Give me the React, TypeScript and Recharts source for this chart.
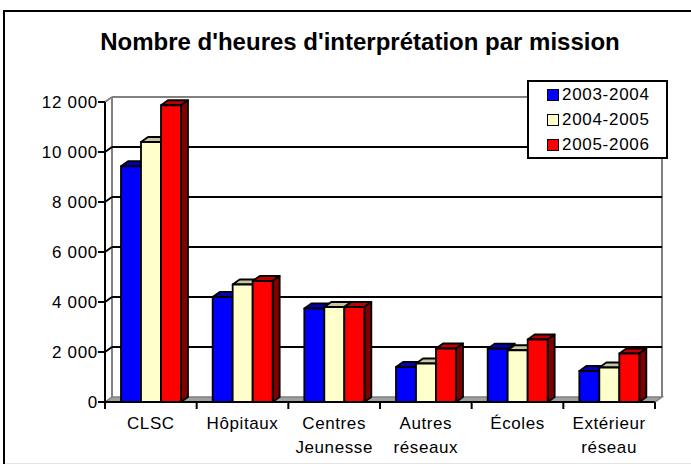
import { Bar, BarChart, CartesianGrid, Legend, XAxis, YAxis } from "recharts";

const categories = ["CLSC", "Hôpitaux", "Centres Jeunesse", "Autres réseaux", "Écoles", "Extérieur réseau"];
const hours2003 = [9430, 4200, 3740, 1400, 2130, 1240];
const hours2004 = [10400, 4700, 3800, 1540, 2070, 1380];
const hours2005 = [11870, 4840, 3800, 2140, 2500, 1940];
const seriesNames = ["2003-2004", "2004-2005", "2005-2006"];
const yTicks = [0, 2000, 4000, 6000, 8000, 10000, 12000];

const data = categories.map((name, i) => ({
  name,
  s2003: hours2003[i],
  s2004: hours2004[i],
  s2005: hours2005[i]
}));

// depth of the fake 3d look
const DX = 7;
const DY = -5;
const FONT = "'Liberation Sans', Arial, sans-serif";

function formatThousands(v: number): string {
  return String(v).replace(/\B(?=(\d{3})+(?!\d))/g, " ");
}

function make3DBar(front: string, top: string, side: string) {
  return (props: any) => {
    const { x, y, width, height } = props;
    if (width == null || height == null) return null;
    const r = x + width;
    const b = y + height;
    return (
      <g stroke="#000" strokeWidth={1.8} strokeLinejoin="round">
        <polygon points={`${x},${y} ${x + DX},${y + DY} ${r + DX},${y + DY} ${r},${y}`} fill={top} />
        <polygon points={`${r},${y} ${r + DX},${y + DY} ${r + DX},${b + DY} ${r},${b}`} fill={side} />
        <rect x={x} y={y} width={width} height={height} fill={front} />
      </g>
    );
  };
}

// back wall gridline + side wall diagonal; the bottom one also draws floor and wall edges
function WallLine(props: any) {
  const { x1, y1, x2, x, y, width, height } = props;
  const bottom = y + height;
  const isBottom = Math.abs(y1 - bottom) < 0.5;
  const isTop = Math.abs(y1 - y) < 0.5;
  if (isBottom) {
    return (
      <g>
        <polygon
          points={`${x},${bottom} ${x + DX},${bottom + DY} ${x + width + DX},${bottom + DY} ${x + width},${bottom}`}
          fill="#a0a0a0"
          stroke="#808080"
          strokeWidth={1.5}
        />
        <line x1={x + DX} y1={y + DY} x2={x + DX} y2={bottom + DY} stroke="#808080" strokeWidth={2} />
        <line x1={x + width + DX} y1={y + DY} x2={x + width + DX} y2={bottom + DY} stroke="#808080" strokeWidth={2} />
      </g>
    );
  }
  const color = isTop ? "#808080" : "#000";
  return (
    <g stroke={color} strokeWidth={2}>
      <line x1={x1} y1={y1} x2={x1 + DX} y2={y1 + DY} />
      <line x1={x1 + DX} y1={y1 + DY} x2={x2 + DX} y2={y1 + DY} />
    </g>
  );
}

function CategoryTick(props: any) {
  const { x, y, payload, index, visibleTicksCount } = props;
  const half = payload.offset ?? 0;
  const lines = String(payload.value).split(" ");
  return (
    <g>
      <line x1={x - half} y1={y} x2={x - half} y2={y + 7} stroke="#000" strokeWidth={2} />
      {index === visibleTicksCount - 1 ? (
        <line x1={x + half} y1={y} x2={x + half} y2={y + 7} stroke="#000" strokeWidth={2} />
      ) : null}
      <text
        x={x}
        y={y + 27}
        textAnchor="middle"
        fontSize={17}
        letterSpacing={0.6}
        fontFamily={FONT}
        fill="#000"
      >
        {lines.map((l, i) => (
          <tspan key={i} x={x} dy={i === 0 ? 0 : 24}>
            {l}
          </tspan>
        ))}
      </text>
    </g>
  );
}

function LegendBox(props: any) {
  const payload = props.payload ?? [];
  return (
    <div
      style={{
        width: 141,
        height: 79,
        boxSizing: "border-box",
        border: "2px solid #000",
        background: "#fff",
        paddingTop: 0,
        fontFamily: FONT
      }}
    >
      {payload.map((entry: any) => (
        <div key={entry.value} style={{ height: 25, display: "flex", alignItems: "center", paddingLeft: 18 }}>
          <span
            style={{
              display: "inline-block",
              width: 12,
              height: 12,
              boxSizing: "border-box",
              border: "1.5px solid #000",
              background: entry.color,
              marginRight: 3
            }}
          />
          <span style={{ fontSize: 17, letterSpacing: 0.7, color: "#000" }}>{entry.value}</span>
        </div>
      ))}
    </div>
  );
}

export default function App() {
  return (
    <div style={{ position: "absolute", left: 0, top: 0, width: 691, height: 464, overflow: "hidden", background: "#fff" }}>
      <div
        style={{
          position: "absolute",
          left: 3,
          top: 10,
          width: 720,
          height: 480,
          borderLeft: "2px solid #000",
          borderTop: "2px solid #000"
        }}
      />
      <div style={{ position: "absolute", left: 5, top: 463, width: 686, height: 1, background: "#e6e6e6" }} />
      <div
        style={{
          position: "absolute",
          left: 360,
          top: 30,
          transform: "translateX(-50%)",
          whiteSpace: "nowrap",
          fontFamily: FONT,
          fontWeight: "bold",
          fontSize: 24,
          lineHeight: "24px",
          color: "#000"
        }}
      >
        Nombre d'heures d'interprétation par mission
      </div>
      <div style={{ position: "absolute", left: 0, top: 0 }}>
        <BarChart
          width={691}
          height={464}
          data={data}
          margin={{ top: 102, right: 36, bottom: 0, left: 45 }}
          barSize={20}
          barGap={0}
        >
          <CartesianGrid vertical={false} horizontal={WallLine} />
          <XAxis
            dataKey="name"
            height={62}
            interval={0}
            tickLine={false}
            tickSize={0}
            tickMargin={0}
            axisLine={{ stroke: "#000", strokeWidth: 2 }}
            tick={CategoryTick}
          />
          <YAxis
            width={60}
            domain={[0, 12000]}
            ticks={yTicks}
            interval={0}
            tickSize={7}
            tickMargin={0}
            tickFormatter={formatThousands}
            axisLine={{ stroke: "#000", strokeWidth: 2 }}
            tickLine={{ stroke: "#000", strokeWidth: 2 }}
            tick={{ fontSize: 17, letterSpacing: 0.7, fill: "#000", fontFamily: FONT }}
          />
          <Legend
            layout="vertical"
            align="center"
            verticalAlign="middle"
            wrapperStyle={{ left: 527, top: 80 }}
            content={LegendBox}
          />
          <Bar dataKey="s2003" name={seriesNames[0]} fill="#0000ff" isAnimationActive={false} shape={make3DBar("#0000ff", "#0000bf", "#000080")} />
          <Bar dataKey="s2004" name={seriesNames[1]} fill="#ffffcc" isAnimationActive={false} shape={make3DBar("#ffffcc", "#c8c8a0", "#9a9a7a")} />
          <Bar dataKey="s2005" name={seriesNames[2]} fill="#ff0000" isAnimationActive={false} shape={make3DBar("#ff0000", "#c00000", "#800000")} />
        </BarChart>
      </div>
    </div>
  );
}
